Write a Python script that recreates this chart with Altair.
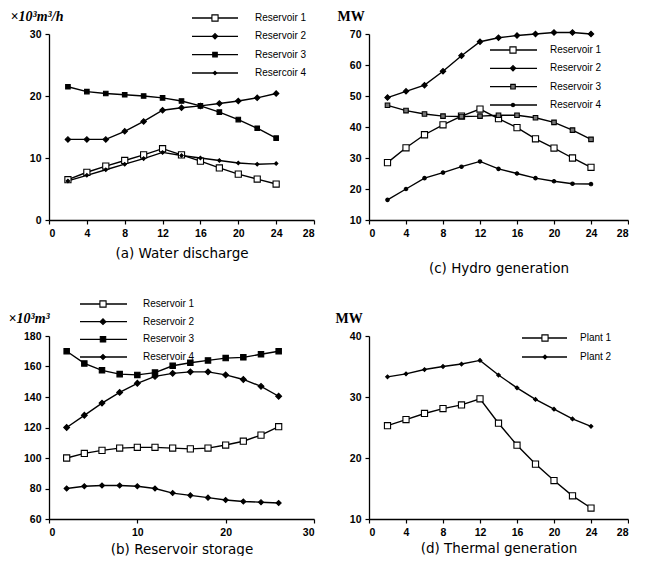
import altair as alt
import pandas as pd

# ---------------- data ----------------
hours = [2, 4, 6, 8, 10, 12, 14, 16, 18, 20, 22, 24]
hours_b = [2, 4, 6, 8, 10, 12, 14, 16, 18, 20, 22, 24, 26]

res_names = ["Reservoir 1", "Reservoir 2", "Reservoir 3", "Reservoir 4"]
res_names_a = ["Reservoir 1", "Reservoir 2", "Reservoir 3", "Resercoir 4"]
plant_names = ["Plant 1", "Plant 2"]

# (a) water discharge (x10^3 m3/h)
a_r1 = [6.5, 7.7, 8.7, 9.6, 10.5, 11.5, 10.5, 9.5, 8.4, 7.4, 6.6, 5.8]
a_r2 = [13.0, 13.0, 13.0, 14.3, 15.9, 17.7, 18.1, 18.4, 18.8, 19.2, 19.7, 20.4]
a_r3 = [21.5, 20.7, 20.4, 20.2, 20.0, 19.7, 19.2, 18.4, 17.4, 16.2, 14.8, 13.2]
a_r4 = [6.3, 7.2, 8.1, 9.0, 9.9, 10.9, 10.4, 10.0, 9.6, 9.2, 9.0, 9.1]

# (c) hydro generation (MW)
c_r1 = [28.5, 33.3, 37.5, 40.7, 43.5, 45.8, 42.7, 39.8, 36.2, 33.2, 30.0, 27.0]
c_r2 = [49.5, 51.5, 53.5, 58.0, 63.0, 67.5, 68.8, 69.5, 70.0, 70.5, 70.5, 70.0]
c_r3 = [47.0, 45.3, 44.2, 43.5, 43.4, 43.5, 43.8, 43.8, 43.0, 41.5, 39.0, 36.0]
c_r4 = [16.5, 20.0, 23.5, 25.3, 27.2, 28.9, 26.5, 25.0, 23.5, 22.5, 21.7, 21.6]

# (b) reservoir storage (x10^3 m3)
b_r1 = [100, 103, 105, 106.5, 107, 107, 106.5, 106, 106.5, 108.5, 111, 115, 120.5]
b_r2 = [120, 128, 136, 143, 149, 153.5, 155.5, 156.5, 156.5, 154.5, 151.5, 147, 140.5]
b_r3 = [170, 162, 157.5, 155, 154.5, 156, 160.5, 162.5, 164, 165.5, 166, 168, 170]
b_r4 = [80, 81.5, 82, 82, 81.5, 80, 77, 75.5, 74, 72.5, 71.5, 71, 70.5]

# (d) thermal generation (MW)
d_p1 = [25.3, 26.3, 27.3, 28.1, 28.7, 29.7, 25.7, 22.1, 19.0, 16.3, 13.8, 11.8]
d_p2 = [33.3, 33.8, 34.5, 35.0, 35.4, 36.0, 33.6, 31.5, 29.6, 28.0, 26.4, 25.2]


def long_df(xs, names, series):
    rows = []
    for n, vals in zip(names, series):
        for x, v in zip(xs, vals):
            rows.append({"t": x, "v": v, "series": n})
    return pd.DataFrame(rows)


FONT = "Liberation Sans"
CAP_FONT = "DejaVu Sans"


def panel(df, names, shapes, fills, sizes, xdom, xticks, ydom, yticks,
          ytitle, ytx, italic, caption, cap_pad, leg_y, leg_x, w, h):
    x = alt.X("t:Q", scale=alt.Scale(domain=xdom, nice=False, zero=False),
              axis=alt.Axis(values=xticks, tickCount=len(xticks), title=caption,
                            titlePadding=cap_pad,
                            titleFont=CAP_FONT, titleFontSize=13.5,
                            titleFontWeight="normal",
                            titleColor="black", labelOverlap=False))
    y = alt.Y("v:Q", scale=alt.Scale(domain=ydom, nice=False, zero=False),
              axis=alt.Axis(values=yticks, tickCount=len(yticks), title=ytitle,
                            titleAngle=0,
                            titleAlign="left", titleBaseline="alphabetic",
                            titleX=ytx, titleY=-14, titleFont="Liberation Serif",
                            titleFontSize=14, titleFontWeight="bold",
                            titleFontStyle="italic" if italic else "normal",
                            titleColor="black", labelOverlap=False))
    shape = alt.Shape("series:N", scale=alt.Scale(domain=names, range=shapes), legend=None)
    fill = alt.Fill("series:N", scale=alt.Scale(domain=names, range=fills), legend=None)
    size = alt.Size("series:N", scale=alt.Scale(domain=names, range=sizes), legend=None)

    line = alt.Chart(df).mark_line(color="black", strokeWidth=1.4).encode(
        x=x, y=y, detail="series:N")
    pts = alt.Chart(df).mark_point(stroke="black", strokeWidth=1.1, opacity=1,
                                   fillOpacity=1).encode(
        x="t:Q", y="v:Q", shape=shape, fill=fill, size=size)

    leg = pd.DataFrame({"series": names})
    ly = alt.Y("series:N", scale=alt.Scale(type="point", domain=names,
                                           range=leg_y, padding=0), axis=None)
    x1, x2, xm, xt = leg_x
    lrule = alt.Chart(leg).mark_rule(color="black", strokeWidth=1.4).encode(
        x=alt.value(x1), x2=alt.value(x2), y=ly)
    lpt = alt.Chart(leg).mark_point(stroke="black", strokeWidth=1.1, opacity=1,
                                    fillOpacity=1).encode(
        x=alt.value(xm), y=ly, shape=shape, fill=fill, size=size)
    ltxt = alt.Chart(leg).mark_text(align="left", baseline="middle", font=FONT,
                                    fontSize=10, color="black").encode(
        x=alt.value(xt), y=ly, text="series:N")
    legend = alt.layer(lrule, lpt, ltxt)

    return alt.layer(alt.layer(line, pts), legend).resolve_scale(
        y="independent").properties(width=w, height=h)


pa = panel(long_df(hours, res_names_a, [a_r1, a_r2, a_r3, a_r4]), res_names_a,
           ["square", "diamond", "square", "diamond"],
           ["white", "black", "black", "black"], [38, 12, 38, 30],
           [0, 28], [0, 4, 8, 12, 16, 20, 24, 28], [0, 30], [0, 10, 20, 30],
           "×10³m³/h", -39, True, "(a)   Water   discharge", 8,
           [-16, 39], (143, 189, 166, 206), 265, 186)

pc = panel(long_df(hours, res_names, [c_r1, c_r2, c_r3, c_r4]), res_names,
           ["square", "diamond", "square", "circle"],
           ["white", "black", "#777777", "black"], [38, 12, 38, 20],
           [0, 28], [0, 4, 8, 12, 16, 20, 24, 28], [10, 70],
           [10, 20, 30, 40, 50, 60, 70],
           "MW", -32, False, "(c)   Hydro   generation", 23,
           [16, 71], (121, 168, 144, 181), 259, 186)

pb = panel(long_df(hours_b, res_names, [b_r1, b_r2, b_r3, b_r4]), res_names,
           ["square", "diamond", "square", "diamond"],
           ["white", "black", "black", "black"], [38, 25, 38, 12],
           [0, 30], [0, 10, 20, 30], [60, 180], [60, 80, 100, 120, 140, 160, 180],
           "×10³m³", -41, True, "(b)   Reservoir   storage", 5,
           [-32, 21], (31, 78, 54, 94), 265, 183)

pd_ = panel(long_df(hours, plant_names, [d_p1, d_p2]), plant_names,
            ["square", "diamond"], ["white", "black"], [38, 14],
            [0, 28], [0, 4, 8, 12, 16, 20, 24, 28], [10, 40], [10, 20, 30, 40],
            "MW", -34, False, "(d)   Thermal   generation", 4,
            [2, 21], (153, 198, 176, 211), 259, 183)

chart = alt.concat(pa, pc, pb, pd_, columns=2, bounds="flush",
                   spacing={"row": 116, "column": 55}).resolve_scale(
    shape="independent", fill="independent", size="independent"
).properties(
    padding={"left": 0, "top": 1, "right": 0, "bottom": 0}, background="white"
).configure_view(stroke=None).configure_axis(
    grid=False, domainColor="black", domainWidth=1.3, tickColor="black",
    tickSize=4, tickWidth=1.2, labelFont=FONT, labelFontSize=10.5,
    labelFontWeight="bold", labelColor="black", labelPadding=4
)

chart.save("out.html", embed_options={"renderer": "svg", "actions": False})
